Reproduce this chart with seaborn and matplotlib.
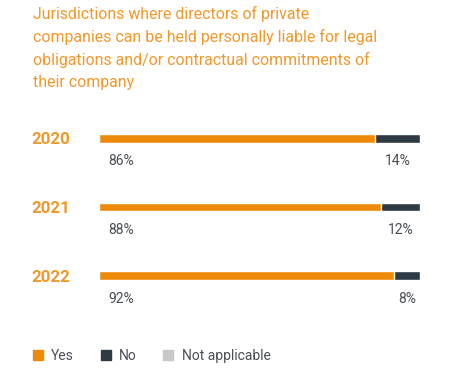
import matplotlib
matplotlib.use("Agg")
import matplotlib.pyplot as plt
import seaborn as sns
import pandas as pd
from matplotlib.lines import Line2D

# data
years = ["2020", "2021", "2022"]
yes = [86, 88, 92]
no = [14, 12, 8]
not_applicable = [0, 0, 0]

title = ("Jurisdictions where directors of private\n"
         "companies can be held personally liable for legal\n"
         "obligations and/or contractual commitments of\n"
         "their company")

ORANGE = "#EE8A0A"
TITLE_ORANGE = "#F0982A"
DARK = "#2E3A44"
GREY = "#C7C8CA"
TEXT = "#4A4F55"

sns.set_style("white")
plt.rcParams["font.family"] = ["Roboto", "DejaVu Sans"]

df = pd.DataFrame({"year": years, "yes": yes, "no": no, "na": not_applicable})
df["yes_no"] = df["yes"] + df["no"]
df["total"] = df["yes_no"] + df["na"]

fig = plt.figure(figsize=(4.59, 3.77), dpi=100)
ax = fig.add_axes([99 / 459, 1 - 310 / 377, 321 / 459, 206 / 377])

# stacked horizontal bars: draw cumulative totals back to front
sns.barplot(data=df, x="total", y="year", color=GREY, orient="h",
            width=0.13, saturation=1, ax=ax)
sns.barplot(data=df, x="yes_no", y="year", color=DARK, orient="h",
            width=0.13, saturation=1, ax=ax)
sns.barplot(data=df, x="yes", y="year", color=ORANGE, orient="h",
            width=0.13, saturation=1, ax=ax)

ax.set_xlim(0, 100)
ax.set_xlabel("")
ax.set_ylabel("")
ax.set_xticks([])
sns.despine(ax=ax, left=True, bottom=True)
ax.tick_params(axis="y", length=0, pad=21)
for lbl in ax.get_yticklabels():
    lbl.set_fontsize(12.2)
    lbl.set_fontweight("bold")
    lbl.set_color(TITLE_ORANGE)
    lbl.set_horizontalalignment("right")

# value labels below bars
for i, row in df.iterrows():
    ax.annotate(f"{row['yes']}%", xy=(0, i), xytext=(6.5, -16.5),
                textcoords="offset points", ha="left", va="center",
                fontsize=10, color=TEXT)
    ax.annotate(f"{row['no']}%", xy=(row["yes"] + row["no"] / 2, i),
                xytext=(0, -16.5), textcoords="offset points",
                ha="center", va="center", fontsize=10, color=TEXT)

fig.text(33 / 459, 1 - 6 / 377, title, ha="left", va="top",
         fontsize=11.4, color=TITLE_ORANGE, linespacing=1.55)

handles = [Line2D([], [], marker="s", linestyle="", markersize=7.9,
                  color=c, label=l)
           for c, l in [(ORANGE, "Yes"), (DARK, "No"), (GREY, "Not applicable")]]
leg = fig.legend(handles=handles, loc="center left",
                 bbox_to_anchor=(32 / 459, 1 - 356 / 377), ncol=3,
                 frameon=False, fontsize=10, handlelength=0.8,
                 handletextpad=0.55, columnspacing=1.9,
                 borderpad=0, borderaxespad=0)
for t in leg.get_texts():
    t.set_color(TEXT)

fig.savefig("out.png", dpi=100)
